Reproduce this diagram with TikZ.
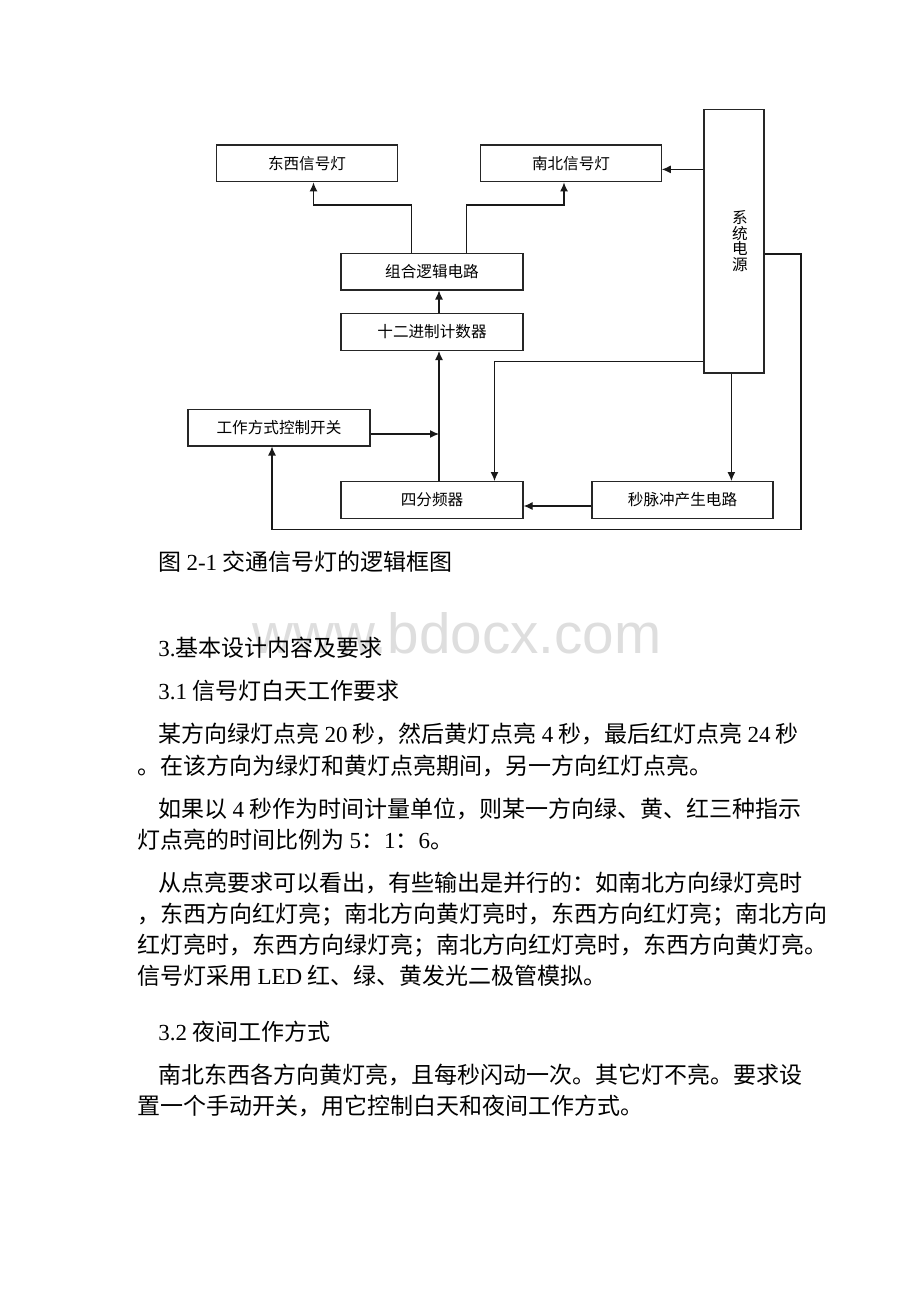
\documentclass[tikz,border=0pt]{standalone}
\usepackage{fontspec}
\setmainfont{Noto Sans CJK SC}
\newfontfamily\tm{Liberation Serif}
\newfontfamily\wmfont{Liberation Sans}
\usetikzlibrary{arrows.meta,calc}
\tikzset{
	blk/.style={draw=black!85, line width=0.6pt, minimum width=91pt, minimum height=18.4pt, inner sep=0pt, font=\fontsize{7.8pt}{9pt}\selectfont},
	arr/.style={draw=black!90, line width=0.6pt, -{Latex[length=4.5pt,width=4pt]}},
	ln/.style={draw=black!90, line width=0.6pt},
	txt/.style={anchor=base west, inner sep=0pt, font=\fontsize{11.5pt}{14pt}\selectfont},
}

\begin{document}
\begin{tikzpicture}[x=0.5pt,y=-0.5pt]
		%%%%% START %%%%%
		\fill[white] (0,0) rectangle (920,1302);
		\useasboundingbox (0,0) rectangle (920,1302);
		
		\node[blk, minimum width=90.5pt] (dxd) at (307,163.4) {东西信号灯};
		\node[blk, minimum width=90.2pt] (nbd) at (571,163.4) {南北信号灯};
		\node[blk] (zhl) at (432,271.5) {组合逻辑电路};
		\node[blk] (jsq) at (432,332) {十二进制计数器};
		\node[blk] (gzk) at (279,427.5) {工作方式控制开关};
		\node[blk] (sfp) at (432,500) {四分频器};
		\node[blk, minimum width=90.5pt] (mcc) at (682.5,500) {秒脉冲产生电路};
		\node[blk, minimum width=30pt, minimum height=131.8pt] (xtdy) at (734,241.2) {};
		\node[inner sep=0pt, align=center, font=\fontsize{7.8pt}{7.85pt}\selectfont] (xtdyt) at (740,241) {系\\统\\电\\源};
		
		\draw[arr] ($(zhl.north)+(-20.5,0)$) -- ++(0,-47.5) -| ($(dxd.south)+(6.5,0)$);
		\draw[arr] ($(zhl.north)+(34.5,0)$) -- ++(0,-47.5) -| ($(nbd.south)+(-7,0)$);
		\draw[arr] ($(jsq.north)+(7,0)$) -- ($(zhl.south)+(7,0)$);
		\draw[arr] ($(sfp.north)+(7,0)$) -- ($(jsq.south)+(7,0)$);
		
		\coordinate (jn) at ($(sfp.north)+(7,0)$);
		\coordinate (g1) at ($(gzk.east)+(0,6.5)$);
		\draw[arr] (g1) -- (g1 -| jn);
		
		\draw[arr] ($(xtdy.west |- nbd.east)+(0,6)$) -- ($(nbd.east)+(0,6)$);
		\draw[arr] ($(xtdy.south west)+(0,-12)$) -| ($(sfp.north)+(62.5,0)$);
		\draw[arr] ($(xtdy.south)+(-2.6,0)$) -- ($(mcc.north)+(48.9,0)$);
		\draw[arr] ($(mcc.west)+(0,6)$) -- ($(sfp.east)+(0,6)$);
		
		\coordinate (fb) at (801,529.3);
		\draw[arr] ($(xtdy.east)+(0,12.8)$) -| (fb) -| ($(gzk.south)+(-7,0)$);
		
		% watermark
		\node[anchor=base west, inner sep=0pt, text=black!13, font=\wmfont\fontsize{28.3pt}{30pt}\selectfont] (wm) at (252,653) {www.bdocx.com};
		
		\node[txt] (t1) at (158,570) {图 {\tm 2-1} 交通信号灯的逻辑框图};
		\node[txt] (t2) at (158,656) {{\tm 3.}基本设计内容及要求};
		\node[txt] (t3) at (158,699) {{\tm 3.1} 信号灯白天工作要求};
		\node[txt] (t4) at (158,742) {某方向绿灯点亮 {\tm 20} 秒，然后黄灯点亮 {\tm 4} 秒，最后红灯点亮 {\tm 24} 秒};
		\node[txt] (t5) at (137,774) {。在该方向为绿灯和黄灯点亮期间，另一方向红灯点亮。};
		\node[txt] (t6) at (158,817) {如果以 {\tm 4} 秒作为时间计量单位，则某一方向绿、黄、红三种指示};
		\node[txt] (t7) at (137,848) {灯点亮的时间比例为 {\tm 5}：{\tm 1}：{\tm 6}。};
		\node[txt] (t8) at (158,891) {从点亮要求可以看出，有些输出是并行的：如南北方向绿灯亮时};
		\node[txt] (t9) at (137,922) {，东西方向红灯亮；南北方向黄灯亮时，东西方向红灯亮；南北方向};
		\node[txt] (t10) at (137,953) {红灯亮时，东西方向绿灯亮；南北方向红灯亮时，东西方向黄灯亮。};
		\node[txt] (t11) at (137,984) {信号灯采用 {\tm LED} 红、绿、黄发光二极管模拟。};
		\node[txt] (t12) at (158,1040) {{\tm 3.2} 夜间工作方式};
		\node[txt] (t13) at (158,1083) {南北东西各方向黄灯亮，且每秒闪动一次。其它灯不亮。要求设};
		\node[txt] (t14) at (137,1114) {置一个手动开关，用它控制白天和夜间工作方式。};
		
		%%%%% END %%%%%
\end{tikzpicture}
\end{document}
